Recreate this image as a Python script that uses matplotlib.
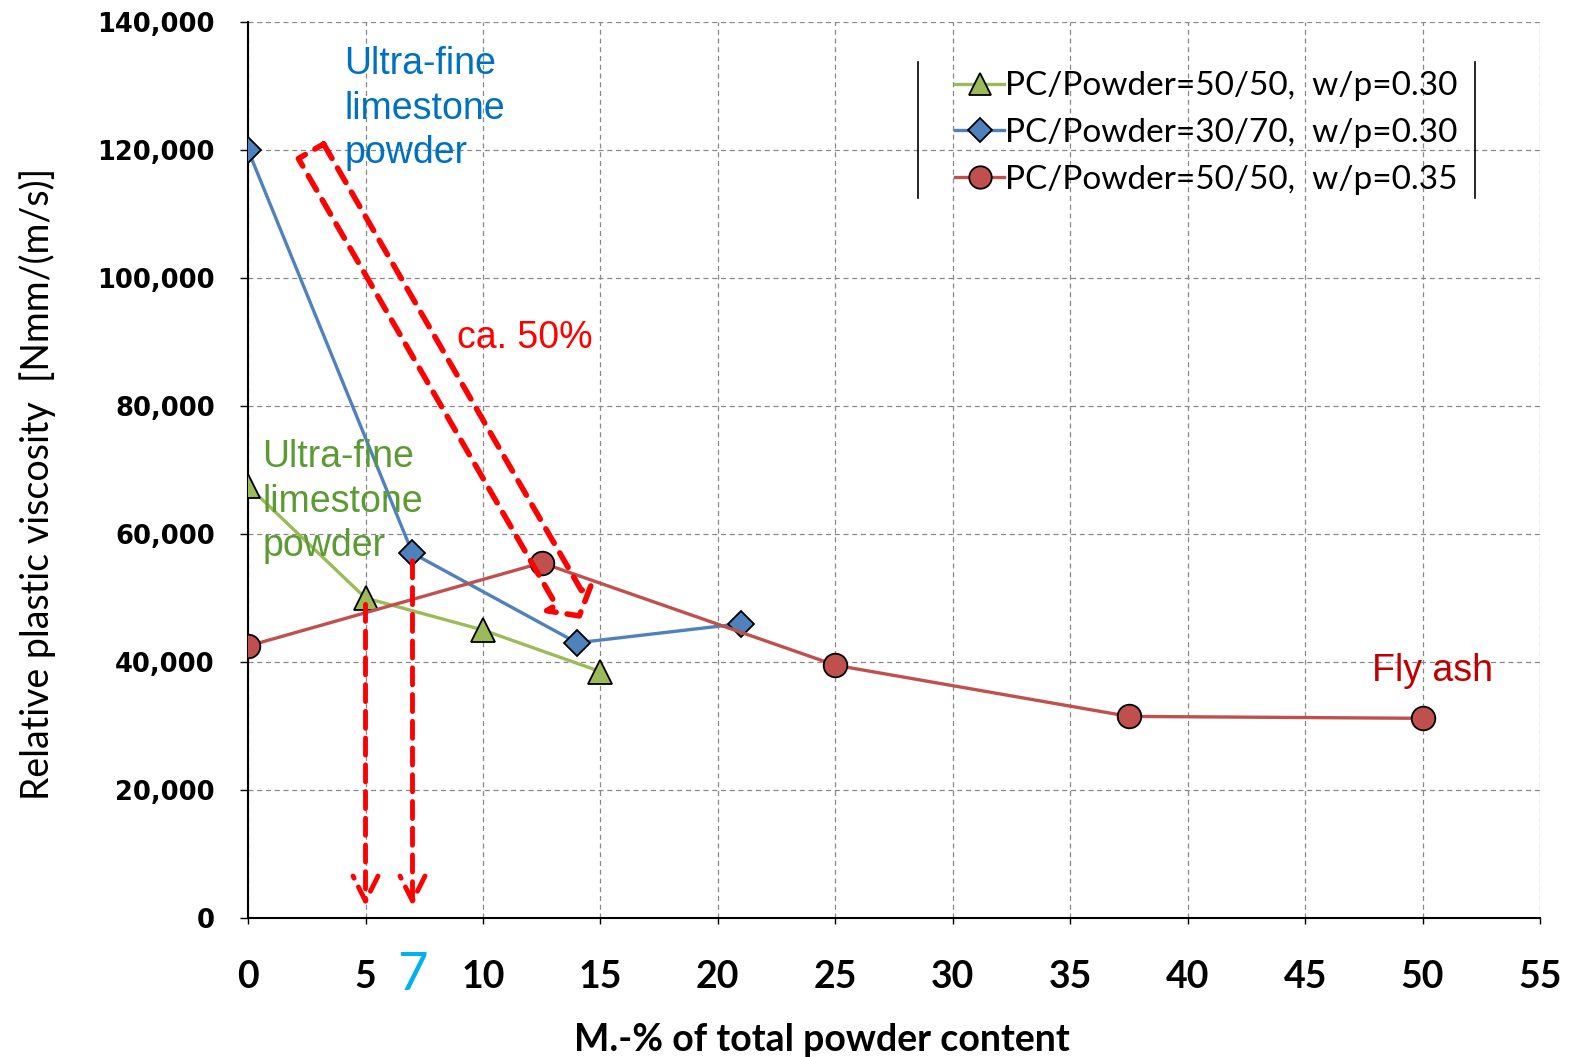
import matplotlib
matplotlib.use("Agg")
import matplotlib.pyplot as plt
from matplotlib.ticker import FuncFormatter
from matplotlib.transforms import blended_transform_factory

# --- DATA ---
x_green = [0, 5, 10, 15]
y_green = [67500, 50000, 45000, 38500]
x_blue = [0, 7, 14, 21]
y_blue = [120000, 57000, 43000, 46000]
x_red = [0, 12.5, 25, 37.5, 50]
y_red = [42500, 55500, 39500, 31500, 31200]

labels = ["PC/Powder=50/50,  w/p=0.30",
          "PC/Powder=30/70,  w/p=0.30",
          "PC/Powder=50/50,  w/p=0.35"]

xticks = list(range(0, 60, 5))
yticks = list(range(0, 160000, 20000))

GREEN = "#9BBB59"
BLUE = "#4F81BD"
RED = "#C0504D"
NARROW = ["Lato", "DejaVu Sans"]

fig = plt.figure(figsize=(15.81, 10.57), dpi=100)
ax = fig.add_axes([0.1569, 0.1315, 0.8172, 0.8477])

l1, = ax.plot(x_green, y_green, color=GREEN, lw=2.4, marker="^", ms=17,
              mfc=GREEN, mec="black", mew=1.3, zorder=4)
l2, = ax.plot(x_blue, y_blue, color=BLUE, lw=2.4, marker="D", ms=13,
              mfc=BLUE, mec="black", mew=1.3, zorder=4)
l3, = ax.plot(x_red, y_red, color=RED, lw=2.4, marker="o", ms=17,
              mfc=RED, mec="black", mew=1.3, zorder=4)

ax.set_xlim(0, 55)
ax.set_ylim(0, 140000)
ax.set_xticks(xticks)
ax.set_yticks(yticks)
ax.yaxis.set_major_formatter(FuncFormatter(lambda v, p: f"{int(v):,}"))
ax.grid(True, color="#888888", linestyle=(0, (4, 3)), linewidth=0.9)
ax.set_axisbelow(True)
for s in ["top", "right"]:
    ax.spines[s].set_visible(False)
ax.spines["left"].set_linewidth(1.5)
ax.spines["bottom"].set_linewidth(1.5)
ax.tick_params(axis="y", direction="out", length=6, width=1, pad=18)
ax.tick_params(axis="x", direction="out", length=4, width=1, pad=26)
for t in ax.get_yticklabels():
    t.set_fontsize(18.5)
    t.set_fontweight("bold")
    t.set_family("DejaVu Sans")
for t in ax.get_xticklabels():
    t.set_fontsize(27)
    t.set_fontweight("bold")
    t.set_family(NARROW)

ax.set_ylabel("Relative plastic viscosity  [Nmm/(m/s)]", fontsize=27,
              family=NARROW)
ax.yaxis.set_label_coords(-0.149, 0.484)
ax.set_xlabel("M.-% of total powder content", fontsize=27, fontweight="bold",
              family=NARROW)
ax.xaxis.set_label_coords(0.444, -0.117)

# legend with only left/right border lines
leg = ax.legend([l1, l2, l3], labels, loc="center", bbox_to_anchor=(0.742, 0.876),
                frameon=False, fontsize=24, handlelength=1.45, handletextpad=0.05,
                labelspacing=0.5, markerscale=0.95)
for txt in leg.get_texts():
    txt.set_family(NARROW)
for xf in (0.5186, 0.9497):
    ax.plot([xf, xf], [0.8036, 0.955], transform=ax.transAxes, color="black",
            lw=1.2, clip_on=False)

# annotations
ax.text(4.1, 136200, "Ultra-fine\nlimestone\npowder", color="#0070C0",
        fontsize=27, family="Liberation Sans", va="top", ha="left",
        linespacing=1.3, zorder=5)
ax.text(0.6, 74800, "Ultra-fine\nlimestone\npowder", color="#5B9B32",
        fontsize=27, family="Liberation Sans", va="top", ha="left",
        linespacing=1.3, zorder=5)
ax.text(8.9, 90550, "ca. 50%", color="red", fontsize=27,
        family="Liberation Sans", va="center", ha="left", zorder=5)
ax.text(47.83, 38600, "Fly ash", color="#C00000", fontsize=27,
        family="Liberation Sans", va="center", ha="left", zorder=5)
ax.text(7, -0.064, "7", color="#00B0F0", fontsize=38, family=NARROW,
        va="center", ha="center",
        transform=blended_transform_factory(ax.transData, ax.transAxes))

# vertical dashed arrows at 5 and 7
for xa, ya in [(5, 49000), (7, 55800)]:
    ax.annotate("", xy=(xa, 1800), xytext=(xa, ya),
                arrowprops=dict(arrowstyle="->,head_length=0.9,head_width=0.45",
                                color="red", lw=3.5, linestyle=(0, (3.5, 2)),
                                shrinkA=0, shrinkB=0, mutation_scale=20),
                zorder=6)

# big dashed outline arrow
ax.annotate("", xy=(14.1, 47200), xytext=(2.68, 119800),
            arrowprops=dict(arrowstyle="simple,head_length=15,head_width=37,tail_width=21",
                            mutation_scale=1, fill=False, edgecolor="red", lw=4,
                            linestyle=(0, (3, 2)), shrinkA=0, shrinkB=0),
            zorder=6)

fig.savefig("out.png", dpi=100)
